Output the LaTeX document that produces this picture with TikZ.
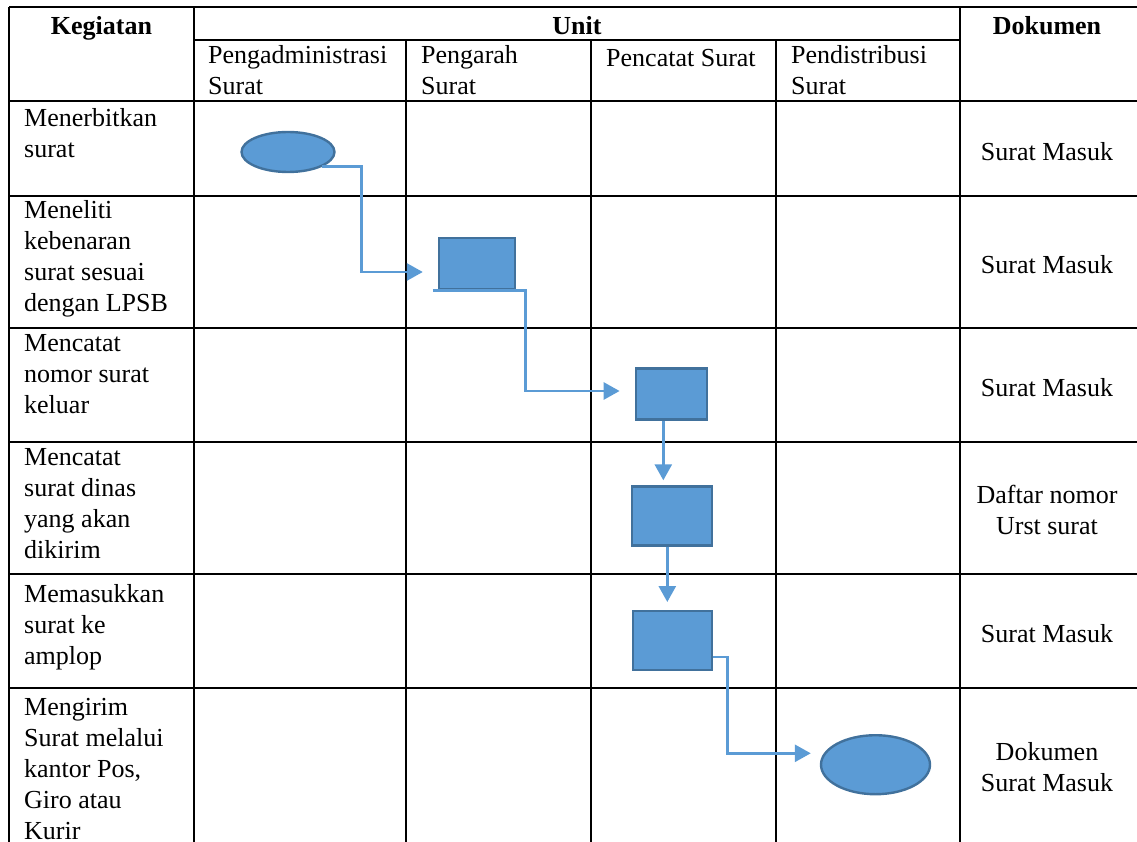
\documentclass[tikz,border=0pt]{standalone}
\usepackage{fontspec}
\setmainfont{Liberation Serif}
\usetikzlibrary{arrows.meta,shapes.geometric,calc}
\definecolor{sfblue}{HTML}{5B9BD5}
\definecolor{sfedge}{HTML}{41719C}

\begin{document}
\begin{tikzpicture}[
  x=1pt,
  y=-1pt,
  font=\fontsize{26}{31}\selectfont,
  rule/.style={line width=2.5pt, draw=black},
  head/.style={anchor=north, inner sep=0pt, font=\fontsize{26}{31}\selectfont\bfseries, execute at begin node=\strut},
  lbl/.style={anchor=north west, align=left, inner sep=0pt, font=\fontsize{26}{31}\selectfont, execute at begin node=\strut},
  doc/.style={align=center, inner sep=0pt, font=\fontsize{26}{31}\selectfont},
  task/.style={rectangle, draw=sfedge, fill=sfblue, line width=2.4pt, inner sep=0pt},
  term/.style={ellipse, draw=sfedge, fill=sfblue, line width=2.4pt, inner sep=0pt},
  flow/.style={-{Triangle[length=16pt, width=17pt]}, draw=sfblue, line width=2.8pt}
]
  \useasboundingbox (0,0) rectangle (1137,842);

  \draw[rule] (9,7) -- (1137,7);
  \draw[rule] (194,40) -- (960,40);
  \draw[rule] (9,101) -- (1137,101);
  \draw[rule] (9,196) -- (1137,196);
  \draw[rule] (9,328) -- (1137,328);
  \draw[rule] (9,442) -- (1137,442);
  \draw[rule] (9,574) -- (1137,574);
  \draw[rule] (9,688) -- (1137,688);
  \draw[rule] (9,7) -- (9,842);
  \draw[rule] (194,7) -- (194,842);
  \draw[rule] (960,7) -- (960,842);
  \draw[rule] (406,40) -- (406,842);
  \draw[rule] (591,40) -- (591,842);
  \draw[rule] (776,40) -- (776,842);

  \node[head] (kegiatan) at (101.5,12.5) {Kegiatan};
  \node[head] (unit) at (577,12.5) {Unit};
  \node[head] (dokumen) at (1047,12.5) {Dokumen};
  \node[lbl] (adm) at (208,45) {Pengadministrasi\\Surat};
  \node[lbl] (arah) at (421,45) {Pengarah\\Surat};
  \node[lbl] (pencatat) at (606,45) {Pencatat Surat};
  \node[lbl] (distrib) at (791,45) {Pendistribusi\\Surat};

  \node[lbl] (k1) at (24,108) {Menerbitkan\\surat};
  \node[lbl] (k2) at (24,200) {Meneliti\\kebenaran\\surat sesuai\\dengan LPSB};
  \node[lbl] (k3) at (24,334) {Mencatat\\nomor surat\\keluar};
  \node[lbl] (k4) at (24,448) {Mencatat\\surat dinas\\yang akan\\dikirim};
  \node[lbl] (k5) at (24,584) {Memasukkan\\surat ke\\amplop};
  \node[lbl] (k6) at (24,698) {Mengirim\\Surat melalui\\kantor Pos,\\Giro atau\\Kurir};

  \node[doc] (d1) at (1047,152) {Surat Masuk};
  \node[doc] (d2) at (1047,265) {Surat Masuk};
  \node[doc] (d3) at (1047,388) {Surat Masuk};
  \node[doc] (d4) at (1047,510) {Daftar nomor\\Urst surat};
  \node[doc] (d5) at (1047,634) {Surat Masuk};
  \node[doc] (d6) at (1047,767) {Dokumen\\Surat Masuk};

  \node[term, minimum width=93pt, minimum height=40pt] (terbit) at (288,152) {};
  \node[task, minimum width=76pt, minimum height=51pt] (teliti) at (477,263.5) {};
  \node[task, minimum width=71pt, minimum height=51pt] (catat) at (671.3,394) {};
  \node[task, minimum width=80pt, minimum height=59pt] (dinas) at (671.8,516) {};
  \node[task, minimum width=79pt, minimum height=59pt] (amplop) at (672.3,640.2) {};
  \node[term, minimum width=109pt, minimum height=59pt] (kirim) at (875.5,764.7) {};

  \draw[flow] (terbit.-23) -| ($(teliti.west)+(-76,8.5)$) -- ($(teliti.west)+(-15,8.5)$);
  \draw[flow] ($(teliti.south west)+(-5,0)$) -| ($(catat.west)+(-109,-3)$) -- ($(catat.west)+(-15,-3)$);
  \draw[flow] ($(catat.south)+(-8,0)$) -- ($(dinas.north)+(-8.5,-5)$);
  \draw[flow] ($(dinas.south)+(-4.5,0)$) -- ($(amplop.north)+(-5,-7.5)$);
  \draw[flow] ($(amplop.east)+(0,16.8)$) -| ($(kirim.west)+(-92,-11.4)$) -- ($(kirim.west)+(-9,-11.4)$);
\end{tikzpicture}
\end{document}
